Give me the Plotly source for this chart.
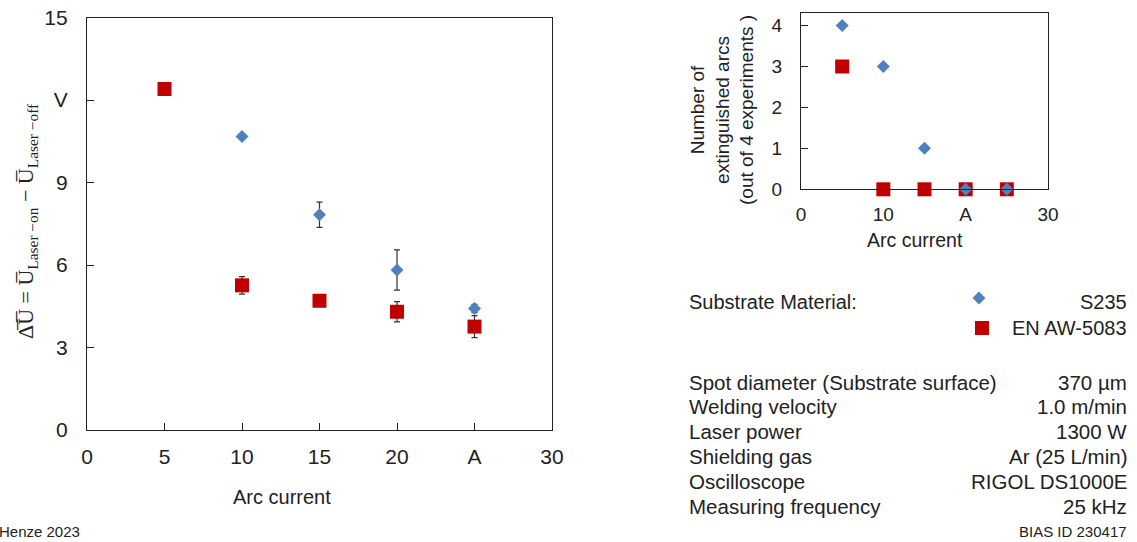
import plotly.graph_objects as go

# Main chart data
arc_current = [5, 10, 15, 20, 25]
s235_x = [10, 15, 20, 25]
s235_dU = [10.67, 7.83, 5.82, 4.42]
s235_err = [0.0, 0.46, 0.73, 0.15]
al_x = [5, 10, 15, 20, 25]
al_dU = [12.4, 5.26, 4.70, 4.30, 3.76]
al_err = [0.0, 0.32, 0.0, 0.37, 0.40]

# Inset data
s235_ext = [4, 3, 1, 0, 0]
al_ext = [3, 0, 0, 0, 0]

x_tickvals = [0, 5, 10, 15, 20, 25, 30]
x_ticktext = ["0", "5", "10", "15", "20", "A", "30"]
y_tickvals = [0, 3, 6, 9, 12, 15]
y_ticktext = ["0", "3", "6", "9", "V", "15"]
x2_tickvals = [0, 10, 20, 30]
x2_ticktext = ["0", "10", "A", "30"]
y2_tickvals = [0, 1, 2, 3, 4]

params = [
    ("Spot diameter (Substrate surface)", "370 µm"),
    ("Welding velocity", "1.0 m/min"),
    ("Laser power", "1300 W"),
    ("Shielding gas", "Ar (25 L/min)"),
    ("Oscilloscope", "RIGOL DS1000E"),
    ("Measuring frequency", "25 kHz"),
]

BLUE = "#4F81BD"
RED = "#C00000"
FONT = "Liberation Sans, Arial, sans-serif"
W, H = 1137, 542

fig = go.Figure()

fig.add_trace(go.Scatter(
    x=s235_x, y=s235_dU, mode="markers",
    marker=dict(symbol="diamond", size=10, color=BLUE),
    error_y=dict(type="data", array=s235_err, color="#333333", thickness=1.2, width=3),
    xaxis="x", yaxis="y", showlegend=False))
fig.add_trace(go.Scatter(
    x=al_x, y=al_dU, mode="markers",
    marker=dict(symbol="square", size=14, color=RED),
    error_y=dict(type="data", array=al_err, color="#333333", thickness=1.2, width=3),
    xaxis="x", yaxis="y", showlegend=False))

fig.add_trace(go.Scatter(
    x=arc_current, y=s235_ext, mode="markers",
    marker=dict(symbol="diamond", size=10, color=BLUE),
    xaxis="x2", yaxis="y2", showlegend=False, cliponaxis=False))
fig.add_trace(go.Scatter(
    x=arc_current, y=al_ext, mode="markers",
    marker=dict(symbol="square", size=14, color=RED),
    xaxis="x2", yaxis="y2", showlegend=False, cliponaxis=False))
# redraw diamonds on top where overlapping
fig.add_trace(go.Scatter(
    x=arc_current[3:], y=s235_ext[3:], mode="markers",
    marker=dict(symbol="diamond", size=10, color=BLUE),
    xaxis="x2", yaxis="y2", showlegend=False, cliponaxis=False))

# legend markers
fig.add_trace(go.Scatter(
    x=[979 / W], y=[1 - 298 / H], mode="markers",
    marker=dict(symbol="diamond", size=10, color=BLUE),
    xaxis="x3", yaxis="y3", showlegend=False))
fig.add_trace(go.Scatter(
    x=[982 / W], y=[1 - 328 / H], mode="markers",
    marker=dict(symbol="square", size=14, color=RED),
    xaxis="x3", yaxis="y3", showlegend=False))

axis_common = dict(showline=True, linecolor="#222222", linewidth=1.3, mirror=True,
                   ticks="inside", ticklen=7, tickcolor="#222222", showgrid=False,
                   zeroline=False, automargin=False,
                   tickfont=dict(family=FONT, size=21, color="#222222"))

fig.update_layout(
    width=W, height=H, margin=dict(l=0, r=0, t=0, b=0, autoexpand=False),
    paper_bgcolor="white", plot_bgcolor="rgba(0,0,0,0)",
    xaxis=dict(domain=[87 / W, 552 / W], range=[0, 30], tickvals=x_tickvals,
               ticktext=x_ticktext, anchor="y", ticklabelstandoff=8, **axis_common),
    yaxis=dict(domain=[1 - 430 / H, 1 - 17.5 / H], range=[0, 15], tickvals=y_tickvals,
               ticktext=y_ticktext, anchor="x", ticklabelstandoff=14, **axis_common),
    xaxis2=dict(domain=[801 / W, 1048 / W], range=[0, 30], tickvals=x2_tickvals,
                ticktext=x2_ticktext, anchor="y2", ticklabelstandoff=8,
                **{**axis_common, "ticks": "", "tickfont": dict(family=FONT, size=19, color="#222222")}),
    yaxis2=dict(domain=[1 - 189.3 / H, 1 - 13.3 / H], range=[0, 4.3], tickvals=y2_tickvals,
                anchor="x2", ticklabelstandoff=14,
                **{**axis_common, "tickfont": dict(family=FONT, size=19, color="#222222")}),
    xaxis3=dict(domain=[0, 1], range=[0, 1], visible=False, anchor="y3", automargin=False),
    yaxis3=dict(domain=[0, 1], range=[0, 1], visible=False, anchor="x3", automargin=False),
)

ann = []
def txt(x, y, s, size=19, xanchor="left", angle=0, family=FONT, yanchor="middle"):
    ann.append(dict(x=x / W, y=1 - y / H, xref="paper", yref="paper", text=s,
                    showarrow=False, xanchor=xanchor, yanchor=yanchor, textangle=angle,
                    font=dict(family=family, size=size, color="#222222")))

# Main y-axis title
txt(27, 221, "Δ̅U̅ = U̅<sub>Laser −on</sub> − U̅<sub>Laser −off</sub>", size=22,
    xanchor="center", angle=-90, family="Liberation Serif, Times New Roman, serif")
txt(282, 497, "Arc current", size=20, xanchor="center")
txt(-3, 531, "Henze 2023", size=15)

# Inset titles
txt(722, 110, "Number of<br>extinguished arcs<br>(out of 4 experiments )", size=19,
    xanchor="center", angle=-90)
txt(915, 240, "Arc current", size=19.5, xanchor="center")

# Legend
txt(687, 302, "Substrate Material:", size=20)
txt(1129, 302, "S235", size=20, xanchor="right")
txt(1129, 328, "EN AW-5083", size=20, xanchor="right")

for i, (k, v) in enumerate(params):
    y = 382 + i * 24.9
    txt(687, y, k, size=20.5)
    txt(1129, y, v, size=20.5, xanchor="right")

txt(1129, 531, "BIAS ID 230417", size=15, xanchor="right")

fig.update_layout(annotations=ann)
fig.write_html("out.html", config={"displayModeBar": False},
               post_script="document.body.style.margin='0';document.body.style.overflow='hidden';")
